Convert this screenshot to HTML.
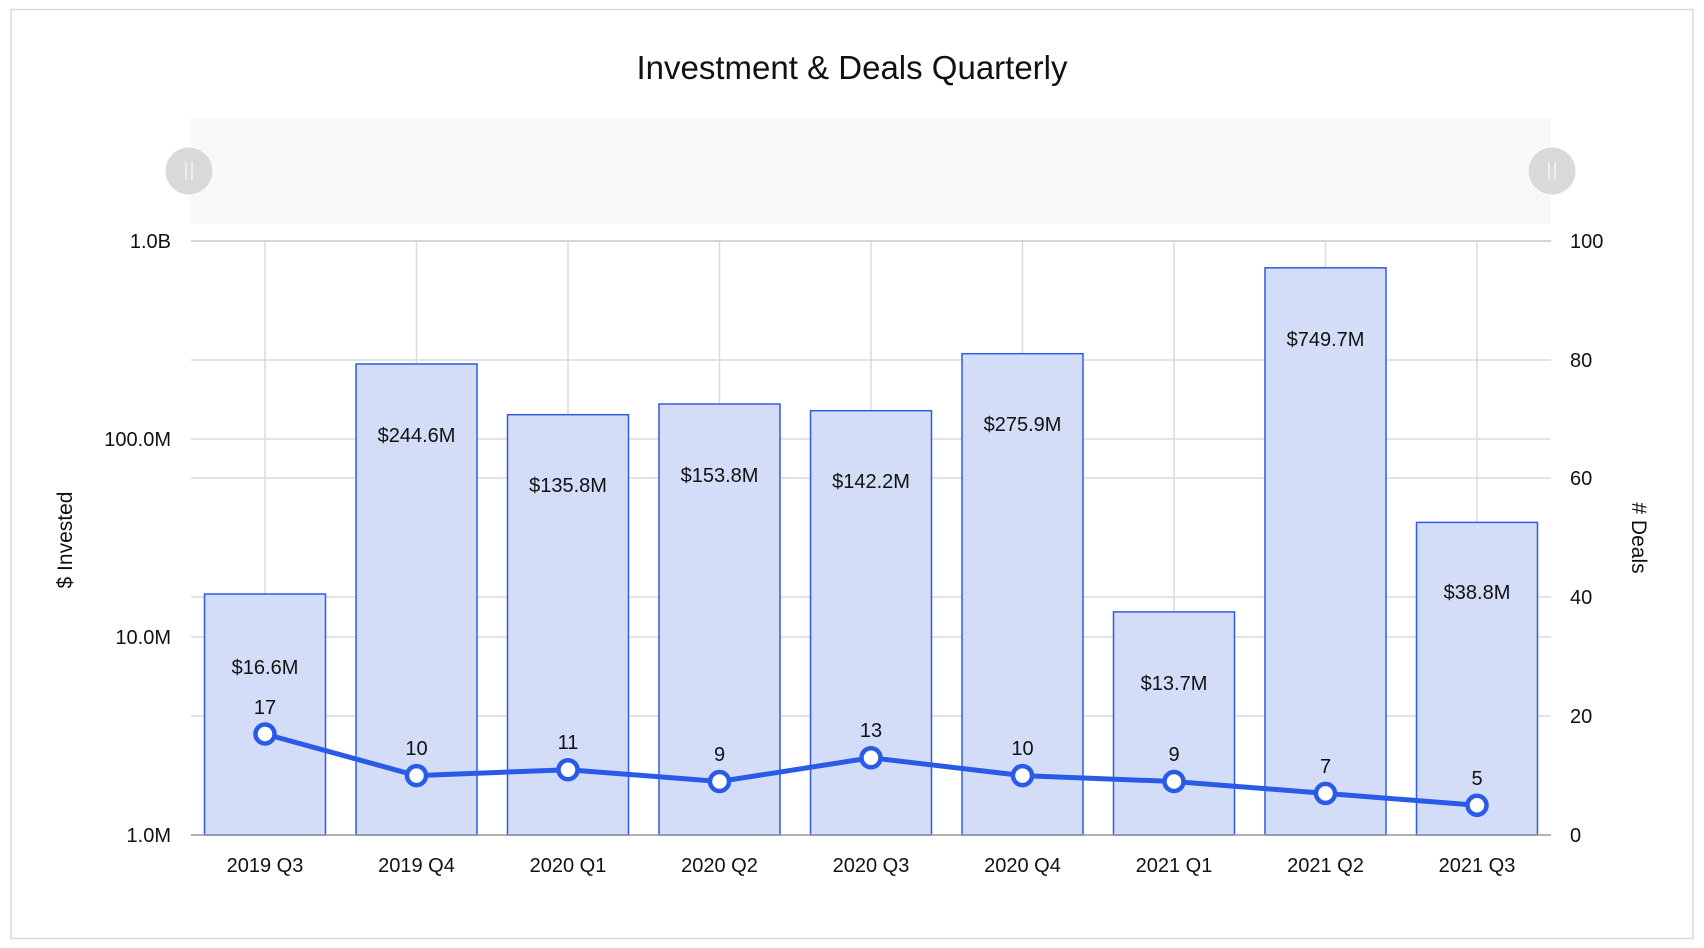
<!DOCTYPE html>
<html><head><meta charset="utf-8"><style>
html,body{margin:0;padding:0;background:#fff;}
svg{display:block;font-family:"Liberation Sans",sans-serif;}
</style></head><body>
<svg width="1704" height="948" viewBox="0 0 1704 948" xmlns="http://www.w3.org/2000/svg">
<rect x="11" y="9.5" width="1682" height="929" fill="#fff" stroke="#d9d9d9" stroke-width="1.5"/>
<text x="852" y="79" font-size="33" text-anchor="middle" fill="#111">Investment &amp; Deals Quarterly</text>
<rect x="191" y="118" width="1360" height="106" fill="#f8f8f8"/>
<circle cx="189" cy="171" r="24" fill="#d9d9d9" stroke="#fff" stroke-width="1"/>
<line x1="186" y1="162" x2="186" y2="180" stroke="#f4f4f4" stroke-width="1.5"/><line x1="192" y1="162" x2="192" y2="180" stroke="#f4f4f4" stroke-width="1.5"/>
<circle cx="1552" cy="171" r="24" fill="#d9d9d9" stroke="#fff" stroke-width="1"/>
<line x1="1549" y1="162" x2="1549" y2="180" stroke="#f4f4f4" stroke-width="1.5"/><line x1="1555" y1="162" x2="1555" y2="180" stroke="#f4f4f4" stroke-width="1.5"/>
<g stroke="#dcdcdc" stroke-width="1.5">
<line x1="191" y1="360" x2="1551" y2="360"/><line x1="191" y1="439" x2="1551" y2="439"/><line x1="191" y1="478" x2="1551" y2="478"/>
<line x1="191" y1="597" x2="1551" y2="597"/><line x1="191" y1="637" x2="1551" y2="637"/><line x1="191" y1="716" x2="1551" y2="716"/>
<line x1="265" y1="241" x2="265" y2="835"/><line x1="416.5" y1="241" x2="416.5" y2="835"/><line x1="568" y1="241" x2="568" y2="835"/><line x1="719.5" y1="241" x2="719.5" y2="835"/><line x1="871" y1="241" x2="871" y2="835"/><line x1="1022.5" y1="241" x2="1022.5" y2="835"/><line x1="1174" y1="241" x2="1174" y2="835"/><line x1="1325.5" y1="241" x2="1325.5" y2="835"/><line x1="1477" y1="241" x2="1477" y2="835"/>
</g>
<line x1="191" y1="241" x2="1551" y2="241" stroke="#c8c8c8" stroke-width="1.5"/>
<g fill="#d4ddf7" stroke="#2f5be6" stroke-width="1.5">
<rect x="204.5" y="594" width="121" height="241"/>
<rect x="356" y="364" width="121" height="471"/>
<rect x="507.5" y="414.7" width="121" height="420.3"/>
<rect x="659" y="404" width="121" height="431"/>
<rect x="810.5" y="410.7" width="121" height="424.3"/>
<rect x="962" y="353.7" width="121" height="481.3"/>
<rect x="1113.5" y="611.9" width="121" height="223.1"/>
<rect x="1265" y="267.8" width="121" height="567.2"/>
<rect x="1416.5" y="522.4" width="121" height="312.6"/>
</g>
<line x1="191" y1="835" x2="1551" y2="835" stroke="#999" stroke-width="1.5"/>
<g font-size="20" fill="#111" text-anchor="middle">
<text x="265" y="674">$16.6M</text>
<text x="416.5" y="442">$244.6M</text>
<text x="568" y="492">$135.8M</text>
<text x="719.5" y="482">$153.8M</text>
<text x="871" y="488">$142.2M</text>
<text x="1022.5" y="431">$275.9M</text>
<text x="1174" y="690">$13.7M</text>
<text x="1325.5" y="346">$749.7M</text>
<text x="1477" y="599">$38.8M</text>
<text x="265" y="714">17</text><text x="416.5" y="755">10</text><text x="568" y="749">11</text><text x="719.5" y="761">9</text><text x="871" y="737">13</text><text x="1022.5" y="755">10</text><text x="1174" y="761">9</text><text x="1325.5" y="773">7</text><text x="1477" y="785">5</text>
<text x="265" y="872">2019 Q3</text><text x="416.5" y="872">2019 Q4</text><text x="568" y="872">2020 Q1</text><text x="719.5" y="872">2020 Q2</text><text x="871" y="872">2020 Q3</text><text x="1022.5" y="872">2020 Q4</text><text x="1174" y="872">2021 Q1</text><text x="1325.5" y="872">2021 Q2</text><text x="1477" y="872">2021 Q3</text>
</g>
<g font-size="20" fill="#111" text-anchor="end">
<text x="171" y="248">1.0B</text><text x="171" y="446">100.0M</text><text x="171" y="644">10.0M</text><text x="171" y="842">1.0M</text>
</g>
<g font-size="20" fill="#111">
<text x="1570" y="248">100</text><text x="1570" y="367">80</text><text x="1570" y="485">60</text><text x="1570" y="604">40</text><text x="1570" y="723">20</text><text x="1570" y="842">0</text>
</g>
<text transform="translate(72,540) rotate(-90)" font-size="21" text-anchor="middle" fill="#111">$ Invested</text>
<text transform="translate(1632,538) rotate(90)" font-size="21" text-anchor="middle" fill="#111"># Deals</text>
<polyline points="265,734 416.5,775.6 568,769.7 719.5,781.5 871,757.8 1022.5,775.6 1174,781.5 1325.5,793.4 1477,805.3" fill="none" stroke="#2a5be8" stroke-width="5"/>
<g fill="#fff" stroke="#2a5be8" stroke-width="4.5">
<circle cx="265" cy="734" r="9.5"/><circle cx="416.5" cy="775.6" r="9.5"/><circle cx="568" cy="769.7" r="9.5"/><circle cx="719.5" cy="781.5" r="9.5"/><circle cx="871" cy="757.8" r="9.5"/><circle cx="1022.5" cy="775.6" r="9.5"/><circle cx="1174" cy="781.5" r="9.5"/><circle cx="1325.5" cy="793.4" r="9.5"/><circle cx="1477" cy="805.3" r="9.5"/>
</g>
</svg>
</body></html>
